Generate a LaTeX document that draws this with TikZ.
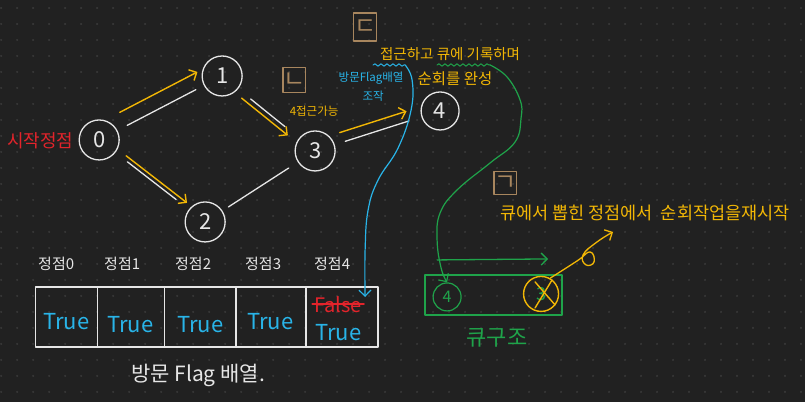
\documentclass[tikz,border=0pt]{standalone}
\usepackage{fontspec}
\setmainfont{Noto Sans CJK KR}
\usetikzlibrary{arrows.meta, calc, decorations.pathmorphing}

\definecolor{board}{HTML}{212121}
\definecolor{boarddot}{HTML}{383838}
\definecolor{chalk}{HTML}{E6E6E6}
\definecolor{amber}{HTML}{F2B705}
\definecolor{sky}{HTML}{29B4E8}
\definecolor{leaf}{HTML}{1FA34A}
\definecolor{rose}{HTML}{E3242B}
\definecolor{tan}{HTML}{A8865E}

\begin{document}
\begin{tikzpicture}[x=1pt, y=-1pt, line cap=round, line join=round,
    >={Straight Barb[length=6pt,width=12pt]},
    vertex/.style={circle, draw=chalk, line width=1.3pt, minimum size=40pt, inner sep=0pt,
        text=chalk, font=\fontsize{22}{22}\selectfont},
    link/.style={chalk, line width=1.3pt, shorten <=12pt, shorten >=12pt},
    trail/.style={amber, line width=1.4pt, ->},
    stepbox/.style={draw=tan, line width=1.2pt, minimum width=21pt, minimum height=25pt,
        inner sep=0pt, text=tan, font=\fontsize{24}{24}\selectfont},
    note/.style={amber, inner sep=0pt},
    head/.style={chalk, inner sep=0pt, font=\fontsize{15}{15}\selectfont},
    flag/.style={sky, inner sep=0pt, font=\fontsize{22}{22}\selectfont}]

    % Board
    \fill[board] (0,0) rectangle (805,402);
    \foreach \x in {1,17,...,801}
        \foreach \y in {8,24,...,392}
            \fill[boarddot] (\x,\y) circle (1.2pt);

    % Vertices
    \node[vertex] (v0) at (99,140) {0};
    \node[vertex] (v1) at (222,76) {1};
    \node[vertex] (v2) at (205,222) {2};
    \node[vertex] (v3) at (315,151) {3};
    \node[vertex, minimum size=38pt] (v4) at (440,111) {4};
    \node[rose, inner sep=0pt, font=\fontsize{18}{18}\selectfont] (start) at (40,141) {시작정점};

    % Edges
    \draw[link, shorten <=11pt, shorten >=9pt] (v0) -- (v1);
    \draw[link, shorten <=16pt, shorten >=18pt] (v1) -- (v3);
    \draw[link, shorten <=15pt, shorten >=16pt] (v0) -- (v2);
    \draw[link, shorten <=7pt, shorten >=11pt] (v2) -- (v3);
    \draw[link, shorten <=11pt, shorten >=13pt] (v3) -- (v4);

    % Traversal
    \draw[trail, shorten <=31pt, shorten >=20pt] ($(v0)!15pt!90:(v1)$) -- ($(v1)!15pt!-90:(v0)$);
    \draw[trail, shorten <=29pt, shorten >=31pt] ($(v1)!5pt!-90:(v3)$) -- ($(v3)!5pt!90:(v1)$);
    \draw[trail, shorten <=31pt, shorten >=26pt] ($(v0)!4pt!90:(v2)$) -- ($(v2)!4pt!-90:(v0)$);
    \draw[trail, shorten <=29pt, shorten >=32pt] ($(v3)!10pt!90:(v4)$) -- ($(v4)!10pt!-90:(v3)$);

    % Steps
    \node[stepbox] (stepL) at (294,80) {ㄴ};
    \node[note, font=\fontsize{11.5}{11.5}\selectfont] (reach) at (314,111) {4접근가능};
    \node[stepbox, minimum width=23pt, minimum height=28pt] (stepD) at (365,27) {ㄷ};
    \node[note, font=\fontsize{14.5}{14.5}\selectfont] (record) at (450,54) {접근하고 큐에 기록하며};
    \node[note, font=\fontsize{15.5}{15.5}\selectfont] (done) at (455,79) {순회를 완성};
    \node[sky, inner sep=0pt, font=\fontsize{11.5}{11.5}\selectfont] (touch) at (371,78) {방문Flag배열};
    \node[sky, inner sep=0pt, font=\fontsize{11.5}{11.5}\selectfont] (touch2) at (373,96) {조작};
    \node[stepbox, minimum width=20pt, minimum height=23pt] (stepG) at (505,183) {ㄱ};
    \node[note, font=\fontsize{17.5}{17.5}\selectfont] (restart) at (645,213) {큐에서 뽑힌 정점에서 \ 순회작업을재시작};

    % Underlines
    \coordinate (blueA) at (373,65);
    \coordinate (blueB) at (405,65);
    \coordinate (greenA) at (437,65);
    \coordinate (greenB) at (490,65);
    \draw[sky, line width=1pt, decorate, decoration={snake, amplitude=1.2pt, segment length=6pt}] (blueA) -- (blueB);
    \draw[leaf, line width=1pt, decorate, decoration={snake, amplitude=1.2pt, segment length=6pt}] (greenA) -- (greenB);

    % Flag array
    \foreach \i/\hx in {0/56, 1/122, 2/193, 3/263, 4/332}
        \node[head] (h\i) at (\hx,264) {정점\i};
    \draw[chalk, line width=1.3pt] (35,287) rectangle (378,347);
    \foreach \x in {97,164,236,306}
        \draw[chalk, line width=1.3pt] (\x,287) -- (\x,347);
    \node[flag] (t0) at (66,322) {True};
    \node[flag] (t1) at (130,325) {True};
    \node[flag] (t2) at (200,325) {True};
    \node[flag] (t3) at (270,322) {True};
    \node[rose, inner sep=0pt, font=\fontsize{20}{20}\selectfont] (f4) at (338,305) {False};
    \draw[rose, line width=1.2pt] ([xshift=-2pt,yshift=1pt]f4.west) -- ([xshift=2pt,yshift=1pt]f4.east);
    \node[flag] (t4) at (338,333) {True};
    \node[chalk, inner sep=0pt, font=\fontsize{21}{21}\selectfont] (array) at (198,376) {방문 Flag 배열.};
    \coordinate (cellTop) at (365,297);
    \draw[sky, line width=1.2pt, ->] plot[smooth, tension=0.7] coordinates
        {(blueB) (412,80) (411,110) (398,148) (378,180) (368,210) (365,250) (cellTop)};

    % Queue
    \draw[leaf, line width=1.3pt] (425,275) rectangle (562,315);
    \node[circle, draw=leaf, line width=1.2pt, minimum size=28pt, inner sep=0pt, text=leaf,
        font=\fontsize{16}{16}\selectfont] (q4) at (447,297) {4};
    \node[circle, draw=amber, line width=1.4pt, minimum size=35pt, inner sep=0pt, text=leaf,
        font=\fontsize{18}{18}\selectfont] (q3) at (541,294) {3};
    \draw[amber, line width=1.4pt] ([shift={(-6,-12)}]q3.center) -- ([shift={(14,11)}]q3.center);
    \draw[amber, line width=1.4pt] ([shift={(11,-14)}]q3.center) -- ([shift={(-6,14)}]q3.center);
    \node[leaf, inner sep=0pt, font=\fontsize{22}{22}\selectfont] (queue) at (497,338) {큐구조};
    \coordinate (qTail) at (437,260);
    \coordinate (qHead) at (548,259);
    \draw[leaf, line width=1.3pt, ->] (qTail) -- (qHead);
    \draw[leaf, line width=1.2pt, ->] plot[smooth, tension=0.7] coordinates
        {(greenB) (507,77) (520,100) (521,118) (515,142) (490,163) (457,190) (440,213) (437,240) (441,268) (q4.north)};
    \coordinate (popTip) at (613,232);
    \draw[amber, line width=1.3pt, ->] plot[smooth, tension=0.8] coordinates
        {(q3.60) (577,261) (590,252) (594,262) (586,265) (583,255) (597,242) (popTip)};

\end{tikzpicture}
\end{document}
